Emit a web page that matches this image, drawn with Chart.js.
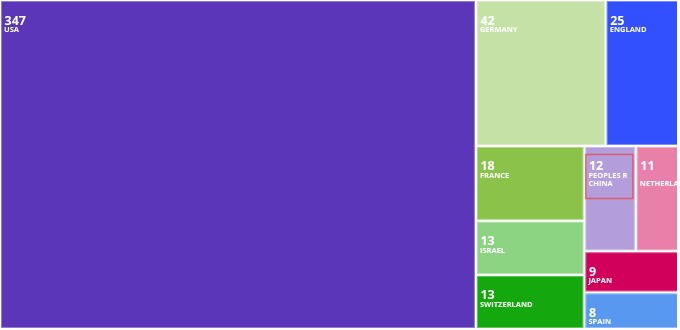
<!DOCTYPE html>
<html>
<head>
<meta charset="utf-8">
<script src="https://cdn.jsdelivr.net/npm/chart.js@4/dist/chart.umd.min.js"></script>
<style>
  html, body { margin: 0; padding: 0; background: #ffffff; overflow: hidden; }
  #wrap { width: 677px; height: 329px; overflow: hidden; position: relative; }
  canvas { display: block; }
</style>
</head>
<body>
<div id="wrap"><canvas id="c" width="683" height="329"></canvas></div>
<script>
// ---- data ----
const COUNTRIES = ['USA', 'GERMANY', 'ENGLAND', 'FRANCE', 'ISRAEL', 'SWITZERLAND',
                   'PEOPLES R CHINA', 'NETHERLANDS', 'JAPAN', 'SPAIN'];
const COUNTS = [347, 42, 25, 18, 13, 13, 12, 11, 9, 8];
const COLORS = ['#5b36b9', '#c5e1a5', '#3350ff', '#8bc34a', '#8dd482', '#14a80e',
                '#b39ddb', '#e880aa', '#d1005a', '#5898f0'];
const HIGHLIGHT = 'PEOPLES R CHINA';

// d3-style squarified layout (golden-ratio target)
function squarify(values, x0, y0, x1, y1) {
  const ratio = (1 + Math.sqrt(5)) / 2;
  const out = [];
  const n = values.length;
  let value = values.reduce((a, b) => a + b, 0);
  let i0 = 0, i1 = 0;
  while (i0 < n) {
    const dx = x1 - x0, dy = y1 - y0;
    let sum = values[i1++];
    let minV = sum, maxV = sum;
    const alpha = Math.max(dy / dx, dx / dy) / (value * ratio);
    let beta = sum * sum * alpha;
    let minRatio = Math.max(maxV / beta, beta / minV);
    for (; i1 < n; ++i1) {
      const v = values[i1];
      sum += v;
      if (v < minV) minV = v;
      if (v > maxV) maxV = v;
      beta = sum * sum * alpha;
      const nr = Math.max(maxV / beta, beta / minV);
      if (nr > minRatio) { sum -= v; break; }
      minRatio = nr;
    }
    if (dx < dy) {
      const yy = value ? y0 + dy * sum / value : y1;
      let x = x0;
      for (let i = i0; i < i1; i++) {
        const w = dx * values[i] / sum;
        out.push({ i, x0: x, y0: y0, x1: x + w, y1: yy });
        x += w;
      }
      y0 = yy;
    } else {
      const xx = value ? x0 + dx * sum / value : x1;
      let y = y0;
      for (let i = i0; i < i1; i++) {
        const h = dy * values[i] / sum;
        out.push({ i, x0: x0, y0: y, x1: xx, y1: y + h });
        y += h;
      }
      x0 = xx;
    }
    value -= sum;
    i0 = i1;
  }
  return out;
}

function wrapWords(ctx, text, maxW) {
  const words = text.split(' ');
  const lines = [''];
  for (const w of words) {
    const cur = lines[lines.length - 1];
    const test = cur ? cur + ' ' + w : w;
    if (ctx.measureText(test).width <= maxW) lines[lines.length - 1] = test;
    else lines.push(w);
  }
  return lines;
}

const treemapPlugin = {
  id: 'treemapCells',
  afterDatasetsDraw(chart) {
    const { ctx, chartArea, scales } = chart;
    const xs = scales.x, ys = scales.y;
    const aspect = chartArea.width / chartArea.height;
    const rects = squarify(COUNTS, 0, 0, aspect, 1);
    ctx.save();
    for (const r of rects) {
      const px0 = xs.getPixelForValue(r.x0 / aspect);
      const px1 = xs.getPixelForValue(r.x1 / aspect);
      const py0 = ys.getPixelForValue(r.y0);
      const py1 = ys.getPixelForValue(r.y1);
      const L = px0 + 1, T = py0 + 1, W = px1 - px0 - 2, H = py1 - py0 - 2;
      ctx.fillStyle = COLORS[r.i];
      ctx.fillRect(L, T, W, H);
      ctx.strokeStyle = 'rgba(255,255,255,0.35)';
      ctx.lineWidth = 1;
      ctx.strokeRect(L + 0.5, T + 0.5, W - 1, H - 1);

      ctx.save();
      ctx.beginPath();
      ctx.rect(L, T, W, H);
      ctx.clip();
      ctx.fillStyle = '#ffffff';
      ctx.textAlign = 'left';
      ctx.textBaseline = 'alphabetic';
      ctx.font = 'bold 12.5px "Open Sans", sans-serif';
      ctx.fillText(String(COUNTS[r.i]), px0 + 4.5, py0 + 24.5);
      ctx.font = 'bold 7.5px "Open Sans", sans-serif';
      const lines = wrapWords(ctx, COUNTRIES[r.i], W - 6);
      lines.forEach((ln, k) => ctx.fillText(ln, px0 + 4, py0 + 31.8 + k * 8.6));
      ctx.restore();

      if (COUNTRIES[r.i] === HIGHLIGHT) {
        ctx.strokeStyle = 'rgba(228,84,96,0.9)';
        ctx.lineWidth = 1.5;
        ctx.strokeRect(px0 + 1.5, py0 + 8.5, 47, 44);
      }
    }
    ctx.restore();
  }
};

new Chart(document.getElementById('c'), {
  type: 'scatter',
  data: { datasets: [{ label: 'Records', data: [] }] },
  options: {
    responsive: false,
    animation: false,
    layout: { padding: 0 },
    plugins: { legend: { display: false }, tooltip: { enabled: false } },
    scales: {
      x: { type: 'linear', min: 0, max: 1, display: false },
      y: { type: 'linear', min: 0, max: 1, reverse: true, display: false }
    }
  },
  plugins: [treemapPlugin]
});
</script>
</body>
</html>
